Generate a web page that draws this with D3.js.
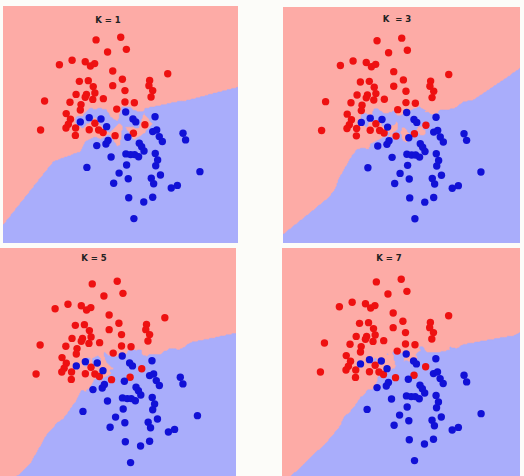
<!DOCTYPE html>
<html><head><meta charset="utf-8">
<script src="https://cdn.jsdelivr.net/npm/d3@7"></script>
<style>html,body{margin:0;padding:0;background:#fcfcf9;overflow:hidden}svg{display:block}</style>
</head><body>
<script>
// Data (feature space 0..10 on both axes)
const redX = [5.01,3.96,5.25,4.45,2.40,2.94,3.50,3.72,3.90,7.01,4.67,3.25,3.63,5.08,6.24,3.84,4.67,6.21,6.37,3.11,3.55,3.91,3.50,5.19,6.30,1.77,2.85,3.32,3.82,4.27,5.19,5.59,3.29,4.84,2.69,2.87,2.78,2.68,1.60,3.09,3.08,3.91,3.67,4.07,4.26,4.77,5.55,6.04];
const redY = [8.68,8.57,8.17,8.06,7.52,7.71,7.65,7.47,7.57,7.14,7.26,6.82,6.85,6.91,6.86,6.60,6.64,6.64,6.43,6.27,6.27,6.33,6.15,6.43,6.16,5.99,5.94,5.84,6.06,6.09,5.95,5.92,5.61,5.65,5.46,5.22,5.01,4.85,4.77,4.85,4.54,5.05,4.78,4.77,4.66,4.53,4.63,4.99];
const blueX = [5.22,3.29,3.67,4.17,4.41,5.53,5.65,6.47,6.37,6.54,6.65,6.78,7.66,7.77,3.99,4.38,4.47,5.31,5.80,5.90,6.00,4.60,5.23,5.43,5.60,5.77,6.48,6.58,6.50,5.26,3.57,4.94,5.33,6.70,6.31,6.41,4.71,8.38,7.16,7.42,5.35,5.99,6.37,5.57];
const blueY = [5.53,5.11,5.29,5.23,4.91,5.23,5.11,5.33,4.70,4.77,4.49,4.28,4.63,4.35,4.11,4.18,4.33,4.46,4.21,4.06,3.88,3.63,3.76,3.73,3.73,3.64,3.78,3.50,3.26,3.29,3.19,2.95,2.71,2.87,2.73,2.50,2.52,3.01,2.32,2.43,1.91,1.73,1.93,1.03];
const kValues = [1, 3, 5, 7];
const titles = ["K = 1", "K  = 3", "K = 5", "K = 7"];

// Layout
const W = 524, H = 476;
const panels = [
  {bg:[3,6,238,243],   data:[3,6,238,243],     title:[108,20]},
  {bg:[283,7,520,243], data:[284,7,519,243],   title:[397,19]},
  {bg:[0,248,236,476], data:[-2,250,236,487],  title:[94,258]},
  {bg:[282,248,520,476], data:[282.5,248,519.5,485], title:[389,258]}
];
const colors = {bgRed:"#fdaba6", bgBlue:"#a9adfb", red:"#ee1111", blue:"#1111d6"};

const pts = redX.map((x,i)=>({x, y:redY[i], c:0}))
  .concat(blueX.map((x,i)=>({x, y:blueY[i], c:1})));

const svg = d3.select("body").append("svg").attr("width", W).attr("height", H);

const n = 220, g0 = -0.4, g1 = 10.4;
function knnGrid(k){
  const vals = new Float64Array(n*n);
  const dk = new Array(k), ck = new Array(k);
  for (let j=0;j<n;j++){
    const y = g1 - (j+0.5)/n*(g1-g0);
    for (let i=0;i<n;i++){
      const x = g0 + (i+0.5)/n*(g1-g0);
      for (let q=0;q<k;q++){dk[q]=Infinity;ck[q]=0;}
      for (const p of pts){
        const d = (p.x-x)*(p.x-x)+(p.y-y)*(p.y-y);
        if (d < dk[k-1]){
          let q=k-1;
          while(q>0 && dk[q-1]>d){dk[q]=dk[q-1];ck[q]=ck[q-1];q--;}
          dk[q]=d;ck[q]=p.c;
        }
      }
      let s=0; for (let q=0;q<k;q++) s+=ck[q];
      vals[j*n+i] = s > k/2 ? 1 : 0;
    }
  }
  return vals;
}

panels.forEach((P, idx) => {
  const k = kValues[idx];
  const [bx0,by0,bx1,by1] = P.bg;
  const [dx0,dy0,dx1,dy1] = P.data;
  const xs = d3.scaleLinear().domain([0,10]).range([dx0,dx1]);
  const ys = d3.scaleLinear().domain([0,10]).range([dy1,dy0]);
  const cid = "clip"+idx;
  svg.append("clipPath").attr("id",cid).append("rect")
    .attr("x",bx0).attr("y",by0).attr("width",bx1-bx0).attr("height",by1-by0);
  const g = svg.append("g").attr("clip-path",`url(#${cid})`);
  g.append("rect").attr("x",bx0).attr("y",by0).attr("width",bx1-bx0).attr("height",by1-by0)
    .attr("fill",colors.bgRed);
  const vals = knnGrid(k);
  const cont = d3.contours().size([n,n]).thresholds([0.5])(vals);
  const proj = d3.geoTransform({point(gx,gy){
    this.stream.point(xs(g0 + gx/n*(g1-g0)), ys(g1 - gy/n*(g1-g0)));
  }});
  const path = d3.geoPath(proj);
  g.selectAll("path.region").data(cont).join("path").attr("class","region")
    .attr("d", path).attr("fill", colors.bgBlue).attr("stroke", colors.bgBlue).attr("stroke-width",0.5);
  g.selectAll("circle").data(pts).join("circle")
    .attr("cx", d=>xs(d.x)).attr("cy", d=>ys(d.y)).attr("r",3.7)
    .attr("fill", d=>d.c ? colors.blue : colors.red);
  svg.append("text").attr("x",P.title[0]).attr("y",P.title[1]).attr("text-anchor","middle")
    .attr("dominant-baseline","middle")
    .attr("font-family","DejaVu Sans, sans-serif").attr("font-weight","bold").attr("font-size",8.5)
    .attr("fill","#222").attr("xml:space","preserve").style("white-space","pre").text(titles[idx]);
});
</script>
</body></html>
